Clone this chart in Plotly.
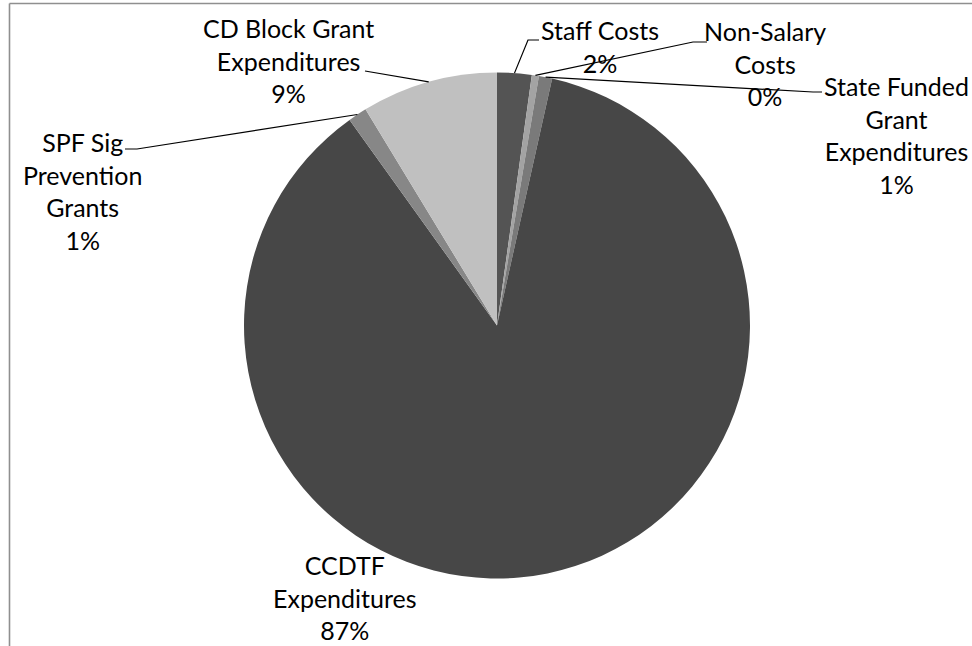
import math
import plotly.graph_objects as go

# Budget breakdown (percent of total), clockwise from 12 o'clock
labels = [
    "Staff Costs",
    "Non-Salary<br>Costs",
    "State Funded<br>Grant<br>Expenditures",
    "CCDTF<br>Expenditures",
    "SPF Sig<br>Prevention<br>Grants",
    "CD Block Grant<br>Expenditures",
]
values = [2.2, 0.45, 0.85, 86.6, 1.2, 8.7]
colors = ["#545454", "#a3a3a3", "#7a7a7a", "#474747", "#878787", "#c0c0c0"]

# Label block centres (px) and leader-line elbows (px, None = no leader)
label_pos = [(600, 46), (765, 63), (896, 135), (345, 597), (82, 191), (288, 61)]
elbows = [
    [(528, 40), (539, 40)],
    [(693, 42), (707, 42)],
    [(813, 92), (822, 92)],
    None,
    [(137, 149), (125, 149)],
    [(365, 71)],
]

W, H = 972, 646
CX, CY, R = 497, 325.5, 253


def px(x):
    return x / W


def py(y):
    return 1 - y / H


fig = go.Figure(
    go.Pie(
        labels=[l.replace("<br>", " ") for l in labels],
        values=values,
        sort=False,
        direction="clockwise",
        rotation=0,
        marker=dict(colors=colors, line=dict(width=0)),
        textinfo="none",
        hoverinfo="label+percent",
        domain=dict(x=[px(CX - R), px(CX + R)], y=[py(CY + R), py(CY - R)]),
        showlegend=False,
    )
)

total = sum(values)
annotations = []
shapes = []
cum = 0.0
for lab, v, (lx, ly), elb in zip(labels, values, label_pos, elbows):
    mid = (cum + v / 2) / total * 2 * math.pi
    cum += v
    pct = round(v / total * 100)
    annotations.append(
        dict(
            x=px(lx), y=py(ly), xref="paper", yref="paper",
            text=f"{lab}<br>{pct}%", showarrow=False,
            xanchor="center", yanchor="middle", align="center",
            font=dict(family="Lato, sans-serif", size=25, color="#000000"),
        )
    )
    if elb:
        pts = [(CX + R * math.sin(mid), CY - R * math.cos(mid))] + elb
        path = "M " + " L ".join(f"{px(x)},{py(y)}" for x, y in pts)
        shapes.append(
            dict(type="path", path=path, xref="paper", yref="paper",
                 line=dict(color="#000000", width=1.2))
        )

# Chart-area frame (top and left edges)
shapes.append(dict(type="line", xref="paper", yref="paper",
                   x0=px(9.5), y0=py(3.5), x1=1.01, y1=py(3.5),
                   line=dict(color="#8f8f8f", width=1.6)))
shapes.append(dict(type="line", xref="paper", yref="paper",
                   x0=px(9.5), y0=py(3.5), x1=px(9.5), y1=-0.01,
                   line=dict(color="#8f8f8f", width=1.6)))

fig.update_layout(
    width=W, height=H,
    margin=dict(l=0, r=0, t=0, b=0),
    paper_bgcolor="#ffffff",
    plot_bgcolor="#ffffff",
    annotations=annotations,
    shapes=shapes,
)

fig.write_html("out.html")
